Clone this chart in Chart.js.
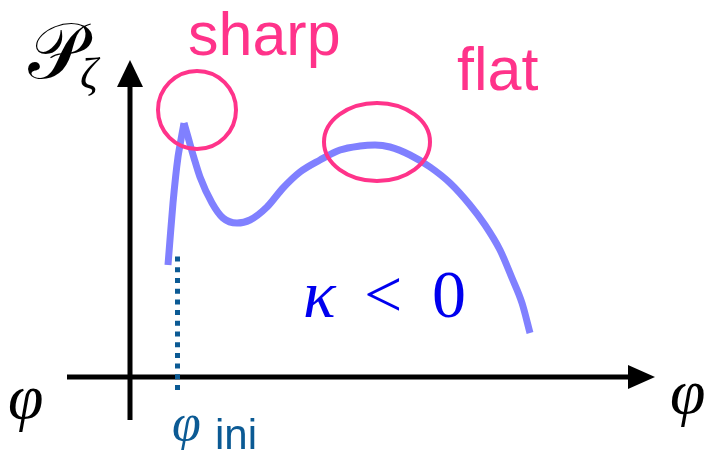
<!DOCTYPE html>
<html>
<head>
<meta charset="utf-8">
<script src="https://cdn.jsdelivr.net/npm/chart.js@4"></script>
<style>
  html, body { margin: 0; padding: 0; background: #ffffff; }
  #wrap { width: 712px; height: 450px; }
</style>
</head>
<body>
<div id="wrap"><canvas id="sketch"></canvas></div>
<script>
// power spectrum P_zeta against the field phi (arbitrary units, origin at the axes)
const phiRise = [0.38, 0.43, 0.48, 0.54];
const pRise = [1.12, 1.74, 2.20, 2.54];

const phiFall = [0.54, 0.58, 0.64, 0.70, 0.82, 0.93, 1.07, 1.20, 1.37, 1.53, 1.70, 1.90, 2.10,
  2.30, 2.45, 2.60, 2.80, 3.00, 3.20, 3.40, 3.55, 3.70, 3.82, 3.92, 4.00];
const pFall = [2.54, 2.40, 2.19, 2.00, 1.74, 1.59, 1.54, 1.57, 1.70, 1.89, 2.05, 2.17, 2.27,
  2.31, 2.32, 2.30, 2.22, 2.10, 1.94, 1.72, 1.52, 1.27, 0.99, 0.74, 0.44];

// initial field value, marked with a dotted line
const phiIni = 0.475;
const iniSpan = [-0.13, 1.22];

// axis extents
const phiAxis = [-0.63, 5.02];
const pAxis = [-0.43, 2.95];

const pts = (xs, ys) => xs.map((x, i) => ({ x: x, y: ys[i] }));

const curveColor = "#8080ff";
const pink = "#ff338a";
const iniColor = "#0b5a94";
const serif = "'Liberation Serif', serif";

const annotations = {
  id: "annotations",
  afterDatasetsDraw(chart) {
    const ctx = chart.ctx;
    const xs = chart.scales.x;
    const ys = chart.scales.y;
    const px = (v) => xs.getPixelForValue(v);
    const py = (v) => ys.getPixelForValue(v);

    ctx.save();

    // arrow heads
    ctx.fillStyle = "#000000";
    let tx = px(0), ty = py(3.17);
    ctx.beginPath();
    ctx.moveTo(tx, ty);
    ctx.lineTo(tx - 13, ty + 27);
    ctx.lineTo(tx + 13, ty + 27);
    ctx.closePath();
    ctx.fill();
    tx = px(5.25); ty = py(0);
    ctx.beginPath();
    ctx.moveTo(tx, ty);
    ctx.lineTo(tx - 27, ty - 12);
    ctx.lineTo(tx - 27, ty + 12);
    ctx.closePath();
    ctx.fill();

    // circled features
    ctx.strokeStyle = pink;
    ctx.lineWidth = 4;
    ctx.beginPath();
    ctx.ellipse(px(0.67), py(2.67), 39, 39, 0, 0, Math.PI * 2);
    ctx.stroke();
    ctx.beginPath();
    ctx.ellipse(px(2.47), py(2.35), 53, 39, 0, 0, Math.PI * 2);
    ctx.stroke();

    ctx.textAlign = "left";
    ctx.textBaseline = "alphabetic";

    ctx.fillStyle = pink;
    ctx.font = "61px 'Liberation Sans', Arial, sans-serif";
    ctx.fillText("sharp", px(0.58), py(3.22));
    ctx.fillText("flat", px(3.27), py(2.87));

    ctx.fillStyle = "#0000ee";
    ctx.font = "italic 68px " + serif;
    ctx.fillText("κ", px(1.73), py(0.60));
    ctx.font = "68px " + serif;
    ctx.fillText("<", px(2.34), py(0.60));
    ctx.fillText("0", px(3.02), py(0.60));

    ctx.fillStyle = "#000000";
    ctx.font = "78px 'DejaVu Serif', " + serif;
    ctx.fillText("𝒫", px(-1.02), py(2.99));
    ctx.font = "italic 44px " + serif;
    ctx.fillText("ζ", px(-0.50), py(2.89));

    ctx.font = "italic 64px " + serif;
    ctx.fillText("φ", px(-1.22), py(-0.41));
    ctx.fillText("φ", px(5.40), py(-0.36));

    ctx.fillStyle = iniColor;
    ctx.font = "italic 52px " + serif;
    ctx.fillText("φ", px(0.42), py(-0.63));
    ctx.font = "42px 'Liberation Sans', Arial, sans-serif";
    ctx.fillText("ini", px(0.85), py(-0.72));

    ctx.restore();
  },
};

new Chart(document.getElementById("sketch"), {
  type: "line",
  data: {
    datasets: [
      {
        data: pts([phiIni, phiIni], iniSpan),
        borderColor: iniColor,
        borderWidth: 5,
        borderDash: [5, 5.7],
        borderCapStyle: "butt",
      },
      {
        data: pts([0, 0], pAxis),
        borderColor: "#000000",
        borderWidth: 5,
      },
      {
        data: pts(phiAxis, [0, 0]),
        borderColor: "#000000",
        borderWidth: 5,
      },
      {
        data: pts(phiRise, pRise),
        borderColor: curveColor,
        borderWidth: 7,
        tension: 0.2,
      },
      {
        data: pts(phiFall, pFall),
        borderColor: curveColor,
        borderWidth: 7,
        cubicInterpolationMode: "monotone",
      },
    ],
  },
  options: {
    responsive: true,
    maintainAspectRatio: false,
    animation: false,
    layout: { padding: 0 },
    elements: {
      point: { radius: 0 },
      line: { fill: false, borderJoinStyle: "miter" },
    },
    datasets: { line: { clip: false } },
    scales: {
      x: { type: "linear", min: -1.30, max: 5.82, display: false },
      y: { type: "linear", min: -0.73, max: 3.77, display: false },
    },
    plugins: {
      legend: { display: false },
      tooltip: { enabled: false },
    },
  },
  plugins: [annotations],
});
</script>
</body>
</html>
